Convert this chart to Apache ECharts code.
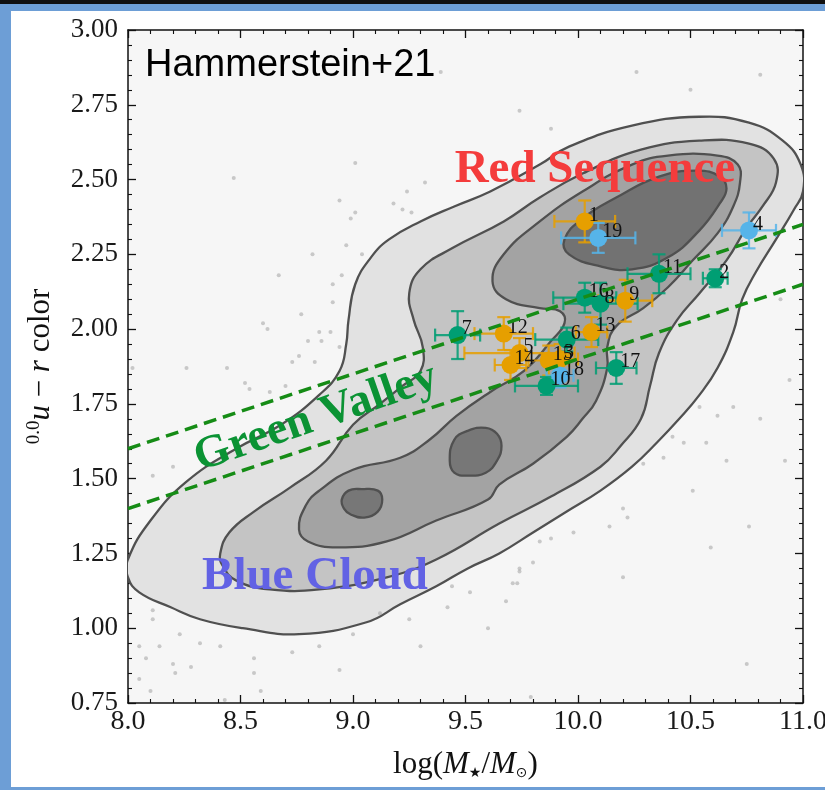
<!DOCTYPE html>
<html>
<head>
<meta charset="utf-8">
<script src="https://cdn.jsdelivr.net/npm/echarts@6/dist/echarts.min.js"></script>
<style>
html,body{margin:0;padding:0;background:#6d9ed6;}
#chart{width:825px;height:790px;}
</style>
</head>
<body>
<div id="chart"></div>
<script>
// ---------- axes ----------
const xRange = [8.0, 11.0];
const xStep = 0.5;
const yRange = [0.75, 3.0];
const yStep = 0.25;

// ---------- galaxies ----------
const galaxyId   = ['1','2','3','4','5','6','7','8','9','10','11','12','13','14','15','16','17','18','19'];
const logMass    = [10.03, 10.61, 9.92, 10.76, 9.74, 9.95, 9.465, 10.10, 10.21, 9.86, 10.36, 9.67, 10.06, 9.70, 9.87, 10.03, 10.17, 9.92, 10.09];
const urColor    = [2.36, 2.17, 1.90, 2.33, 1.92, 1.965, 1.98, 2.085, 2.095, 1.81, 2.185, 1.985, 1.99, 1.88, 1.895, 2.105, 1.87, 1.845, 2.305];
const massErr    = [0.135, 0.055, 0.08, 0.12, 0.245, 0.14, 0.10, 0.165, 0.12, 0.14, 0.14, 0.13, 0.07, 0.07, 0.09, 0.14, 0.09, 0.06, 0.165];
const colorErr   = [0.07, 0.03, 0.05, 0.06, 0.05, 0.04, 0.08, 0.07, 0.07, 0.03, 0.065, 0.055, 0.05, 0.05, 0.05, 0.05, 0.053, 0.04, 0.05];
const galaxyClass= ['o','g','o','b','o','g','g','g','o','g','g','o','o','o','o','g','g','b','b'];
const classOrder = ['o','b','g'];
const classColor = {o:'#E69F00', g:'#009E73', b:'#56B4E9'};

// ---------- green valley boundaries ----------
const gvUpper = [[8.0, 1.60], [11.0, 2.35]];
const gvLower = [[8.0, 1.40], [11.0, 2.15]];

// ---------- density contours (SDSS background) ----------
const contourL1 = [[8.00,1.23],[8.10,1.36],[8.26,1.49],[8.48,1.60],[8.68,1.68],[8.85,1.78],[8.94,1.86],[8.97,1.95],[8.98,2.03],[9.01,2.15],[9.08,2.24],[9.16,2.30],[9.30,2.36],[9.45,2.41],[9.61,2.46],[9.83,2.55],[9.96,2.61],[10.24,2.68],[10.54,2.71],[10.76,2.69],[10.91,2.63],[10.99,2.55],[11.00,2.46],[10.96,2.40],[10.88,2.30],[10.79,2.19],[10.73,2.10],[10.69,1.99],[10.62,1.87],[10.54,1.78],[10.45,1.70],[10.35,1.62],[10.24,1.54],[10.10,1.46],[9.95,1.39],[9.80,1.32],[9.65,1.25],[9.51,1.20],[9.37,1.14],[9.21,1.08],[9.06,1.02],[8.76,0.98],[8.51,1.00],[8.32,1.03],[8.19,1.07],[8.05,1.12],[8.00,1.17]];
const contourL2 = [[8.41,1.25],[8.45,1.32],[8.56,1.39],[8.72,1.47],[8.88,1.56],[9.00,1.68],[9.12,1.75],[9.22,1.81],[9.30,1.86],[9.31,1.94],[9.27,2.03],[9.25,2.12],[9.30,2.20],[9.44,2.27],[9.67,2.36],[9.83,2.44],[10.02,2.52],[10.28,2.60],[10.54,2.63],[10.76,2.62],[10.87,2.57],[10.88,2.49],[10.82,2.41],[10.75,2.34],[10.66,2.23],[10.54,2.12],[10.44,2.03],[10.36,1.92],[10.32,1.81],[10.28,1.70],[10.19,1.61],[10.10,1.54],[9.88,1.44],[9.65,1.35],[9.37,1.23],[9.15,1.17],[8.85,1.13],[8.63,1.13],[8.48,1.16],[8.42,1.21]];
const contourL3 = [[8.76,1.33],[8.79,1.41],[8.85,1.46],[9.00,1.53],[9.21,1.57],[9.34,1.63],[9.46,1.71],[9.61,1.79],[9.76,1.86],[9.88,1.96],[9.94,2.02],[9.92,2.06],[9.83,2.07],[9.68,2.10],[9.62,2.16],[9.67,2.25],[9.83,2.36],[10.02,2.46],[10.24,2.55],[10.40,2.58],[10.62,2.58],[10.71,2.55],[10.72,2.49],[10.69,2.41],[10.62,2.32],[10.51,2.23],[10.40,2.14],[10.29,2.07],[10.17,2.01],[10.13,1.94],[10.13,1.87],[10.08,1.76],[10.02,1.70],[9.95,1.64],[9.80,1.55],[9.65,1.48],[9.60,1.43],[9.37,1.36],[9.15,1.29],[8.93,1.27],[8.80,1.29]];
const contourL4Red = [[9.94,2.30],[9.96,2.25],[10.10,2.21],[10.24,2.20],[10.40,2.24],[10.54,2.33],[10.63,2.42],[10.66,2.47],[10.63,2.51],[10.53,2.53],[10.36,2.51],[10.17,2.44],[10.02,2.37]];
const contourL4BlueA = [[8.95,1.43],[8.98,1.46],[9.04,1.465],[9.11,1.46],[9.13,1.43],[9.11,1.39],[9.05,1.37],[8.99,1.38],[8.96,1.40]];
const contourL4BlueB = [[9.43,1.56],[9.45,1.63],[9.51,1.66],[9.59,1.67],[9.64,1.65],[9.66,1.61],[9.64,1.56],[9.59,1.52],[9.51,1.51],[9.45,1.52]];

// ---------- faint background galaxies ----------
const bgGalaxies = [[8.47,2.505],[9.01,2.555],[8.94,2.43],[8.99,2.37],[9.01,2.39],[9.22,2.40],[9.26,2.39],[9.18,2.42],[9.32,2.49],[9.24,2.46],[8.82,2.25],[8.97,2.28],[9.04,2.25],[8.67,2.18],[8.91,2.15],[8.95,2.18],[8.91,2.09],[8.77,2.05],[8.60,2.02],[8.62,2.00],[8.85,1.99],[8.90,1.99],[8.86,1.96],[8.80,1.96],[8.76,1.91],[8.73,1.89],[8.83,1.89],[8.94,1.94],[8.26,1.87],[8.44,1.87],[8.52,1.82],[8.54,1.80],[8.63,1.79],[8.70,1.81],[8.02,1.87],[8.20,1.54],[8.11,1.51],[8.11,1.06],[8.11,1.03],[8.14,0.94],[8.05,0.94],[8.23,0.98],[8.08,0.90],[8.20,0.88],[8.32,0.95],[8.41,0.94],[8.56,0.90],[8.73,0.92],[8.85,0.94],[9.00,0.98],[9.12,1.05],[9.25,1.03],[9.42,1.07],[9.52,1.12],[9.60,1.00],[9.74,1.20],[9.71,1.15],[9.44,1.14],[8.94,0.86],[8.56,0.85],[9.30,0.94],[10.54,1.74],[10.62,1.71],[10.69,1.74],[10.57,1.62],[10.66,1.56],[10.42,1.64],[10.47,1.62],[10.29,1.55],[10.38,1.57],[10.51,1.46],[10.20,1.40],[10.22,1.37],[10.14,1.34],[9.98,1.32],[9.88,1.30],[9.83,1.29],[9.74,1.19],[9.73,1.15],[9.68,1.09],[9.80,1.22],[10.59,1.27],[10.76,1.34],[10.20,1.17],[10.75,0.88],[8.05,0.83],[8.10,0.79],[8.21,0.85],[8.28,0.87],[8.43,0.76],[8.59,0.79],[9.79,0.77],[9.39,2.86],[10.26,2.86],[10.50,2.80],[9.88,2.67],[9.74,2.73],[10.81,2.85],[10.90,2.10],[10.94,1.83],[10.81,1.70],[10.92,1.56]];

// ---------- texts ----------
const sampleLabel = 'Hammerstein+21';
const regionLabels = ['Red Sequence', 'Green Valley', 'Blue Cloud'];

const contourRegions = [
  {pts: contourL1, fill: '#e2e2e2'},
  {pts: contourL2, fill: '#c4c4c4'},
  {pts: contourL3, fill: '#a3a3a3'},
  {pts: contourL4Red, fill: '#727272'},
  {pts: contourL4BlueA, fill: '#777777'},
  {pts: contourL4BlueB, fill: '#777777'}
];

const SERIF = '"Liberation Serif", "DejaVu Serif", serif';

function contourItem(params, api) {
  const reg = contourRegions[params.dataIndex];
  const pts = reg.pts.map(p => api.coord(p));
  return {
    type: 'polygon',
    shape: {points: pts, smooth: 0.45},
    style: {fill: reg.fill, stroke: '#505050', lineWidth: 2.3}
  };
}

function errItem(color) {
  return function (params, api) {
    const x = api.value(0), y = api.value(1), ex = api.value(2), ey = api.value(3);
    const l = api.coord([x - ex, y]), r = api.coord([x + ex, y]);
    const t = api.coord([x, y + ey]), b = api.coord([x, y - ey]);
    const c = 6.5;
    const st = {stroke: color, lineWidth: 2.2, opacity: 0.85};
    const seg = (x1, y1, x2, y2) => ({type: 'line', shape: {x1, y1, x2, y2}, style: st});
    return {
      type: 'group',
      children: [
        seg(l[0], l[1], r[0], r[1]),
        seg(t[0], t[1], b[0], b[1]),
        seg(l[0], l[1] - c, l[0], l[1] + c),
        seg(r[0], r[1] - c, r[0], r[1] + c),
        seg(t[0] - c, t[1], t[0] + c, t[1]),
        seg(b[0] - c, b[1], b[0] + c, b[1])
      ]
    };
  };
}

const axisCommon = {
  axisLine: {show: true, onZero: false, lineStyle: {color: '#111', width: 1.5}},
  axisTick: {show: true, inside: true, length: 8, lineStyle: {color: '#111', width: 1.3}},
  minorTick: {show: true, splitNumber: 5, length: 4, lineStyle: {color: '#111', width: 1.1}},
  splitLine: {show: false}
};

function mkX(pos, showLabel) {
  return Object.assign({}, axisCommon, {
    type: 'value', position: pos, min: xRange[0], max: xRange[1], interval: xStep,
    axisLabel: {show: showLabel, margin: 5, color: '#1a1a1a', fontSize: 28, fontFamily: SERIF,
      formatter: v => v.toFixed(1)}
  });
}
function mkY(pos, showLabel) {
  return Object.assign({}, axisCommon, {
    type: 'value', position: pos, min: yRange[0], max: yRange[1], interval: yStep,
    axisLabel: {show: showLabel, margin: 10, color: '#1a1a1a', fontSize: 27, fontFamily: SERIF,
      formatter: v => v.toFixed(2)}
  });
}

const xMain = mkX('bottom', true);
xMain.name = '{n|log(}{i|M}{s|★}{n|/}{i|M}{s|⊙}{n|)}';
xMain.nameLocation = 'middle';
xMain.nameGap = 46;
xMain.nameTextStyle = {
  color: '#111', fontFamily: SERIF, fontSize: 31,
  rich: {
    n: {fontFamily: SERIF, fontSize: 31, color: '#111'},
    i: {fontFamily: SERIF, fontSize: 31, fontStyle: 'italic', color: '#111'},
    s: {fontFamily: '"DejaVu Sans", sans-serif', fontSize: 14, color: '#111', verticalAlign: 'bottom'}
  }
};
const yMain = mkY('left', true);
yMain.name = '{s|0.0}{i|u}{n| − }{i|r}{n| color}';
yMain.nameLocation = 'middle';
yMain.nameGap = 72;
yMain.nameTextStyle = {
  color: '#111', fontFamily: SERIF, fontSize: 31,
  rich: {
    n: {fontFamily: SERIF, fontSize: 31, color: '#111'},
    i: {fontFamily: SERIF, fontSize: 31, fontStyle: 'italic', color: '#111'},
    s: {fontFamily: SERIF, fontSize: 19, color: '#111', verticalAlign: 'top'}
  }
};

const series = [];
series.push({
  type: 'scatter', xAxisIndex: 0, yAxisIndex: 0, silent: true,
  symbolSize: 4, itemStyle: {color: '#9a9a9a', opacity: 0.5},
  data: bgGalaxies
});
series.push({
  type: 'custom', xAxisIndex: 0, yAxisIndex: 0, silent: true, clip: true,
  renderItem: contourItem,
  encode: {x: 0, y: 1},
  data: contourRegions.map(r => r.pts[0])
});
[gvUpper, gvLower].forEach(line => {
  series.push({
    type: 'line', xAxisIndex: 0, yAxisIndex: 0, silent: true, symbol: 'none',
    lineStyle: {color: '#168c16', width: 3.5, type: [13, 7]},
    data: line
  });
});
classOrder.forEach(cls => {
  const idx = galaxyId.map((_, i) => i).filter(i => galaxyClass[i] === cls);
  series.push({
    type: 'custom', xAxisIndex: 0, yAxisIndex: 0, silent: true,
    renderItem: errItem(classColor[cls]),
    encode: {x: 0, y: 1},
    data: idx.map(i => [logMass[i], urColor[i], massErr[i], colorErr[i]])
  });
  series.push({
    type: 'scatter', xAxisIndex: 0, yAxisIndex: 0, silent: true,
    symbolSize: 18, itemStyle: {color: classColor[cls], opacity: 1},
    label: {show: true, formatter: '{b}', position: [13, 3], align: 'left', verticalAlign: 'middle',
      color: '#111', fontSize: 20, fontFamily: SERIF},
    data: idx.map(i => ({name: galaxyId[i], value: [logMass[i], urColor[i]]}))
  });
});

const chart = echarts.init(document.getElementById('chart'), null, {renderer: 'canvas'});
chart.setOption({
  animation: false,
  backgroundColor: '#6d9ed6',
  grid: {left: 128, right: 22, top: 30, bottom: 87, show: true, backgroundColor: '#f6f6f6', borderWidth: 0,
    containLabel: false, outerBoundsMode: 'none'},
  xAxis: [xMain, mkX('top', false)],
  yAxis: [yMain, mkY('right', false)],
  graphic: [
    {type: 'rect', z: -10, silent: true, shape: {x: 0, y: 0, width: 825, height: 4}, style: {fill: '#101010'}},
    {type: 'rect', z: -10, silent: true, shape: {x: 11, y: 11, width: 814, height: 776}, style: {fill: '#ffffff'}},
    {type: 'text', z: 100, silent: true, x: 145, y: 66,
      style: {text: sampleLabel, fontSize: 38, fontFamily: '"Liberation Sans", Arial, sans-serif', fill: '#000',
        textAlign: 'left', textVerticalAlign: 'middle', align: 'left', verticalAlign: 'middle'}},
    {type: 'text', z: 100, silent: true, x: 595, y: 170,
      style: {text: regionLabels[0], fontSize: 47, fontWeight: 'bold', fontFamily: SERIF, fill: '#f43c3c',
        textAlign: 'center', textVerticalAlign: 'middle', align: 'center', verticalAlign: 'middle'}},
    {type: 'text', z: 100, silent: true, x: 316, y: 418, rotation: 0.335,
      style: {text: regionLabels[1], fontSize: 46, fontWeight: 'bold', fontFamily: SERIF, fill: '#0b9334',
        textAlign: 'center', textVerticalAlign: 'middle', align: 'center', verticalAlign: 'middle'}},
    {type: 'text', z: 100, silent: true, x: 315, y: 577,
      style: {text: regionLabels[2], fontSize: 47, fontWeight: 'bold', fontFamily: SERIF, fill: '#6262e4',
        textAlign: 'center', textVerticalAlign: 'middle', align: 'center', verticalAlign: 'middle'}}
  ],
  series: series
});
</script>
</body>
</html>
